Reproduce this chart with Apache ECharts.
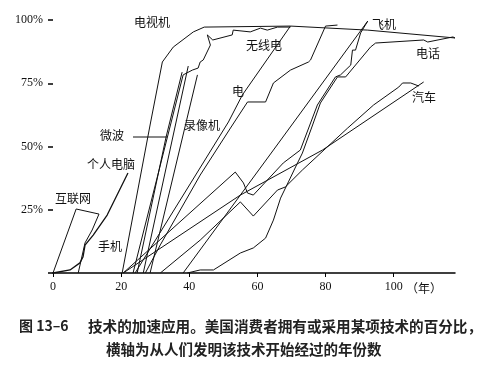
<!DOCTYPE html>
<html><head><meta charset="utf-8">
<script src="https://cdn.jsdelivr.net/npm/echarts@6/dist/echarts.min.js"></script>
<style>html,body{margin:0;padding:0;background:#fff}#c{width:478px;height:369px}</style>
</head><body><div id="c"></div>
<script>
// x = years since invention, y = % of US consumers
const internet = [[0,0],[6.8,25.3],[13.5,23.3]];
const cellphone = [[7.4,0],[9.4,11.9],[11.5,17],[13.5,23.3]];
const pc = [[0,0],[5,1.2],[7.9,4],[8.8,6.3],[9.4,11],[11.8,15],[15.9,22.9],[22,39.5]];
const tv = [[20.3,0],[28.5,58.5],[32.1,83.4],[35.3,89.3],[41.2,95.3],[44.4,97.2],[69.7,97.6],[92.4,96],[118,92.9]];
const radio = [[23.5,0],[38.2,78.3],[40.9,80.2],[42.6,81],[43.2,83.4],[44.1,84.2],[46.2,90.1],[45.3,94.1],[46.9,92.1],[52.6,94.1],[52.9,96],[57.9,95.3],[60.9,96.8],[62.9,96],[65.9,97.2],[69.7,97.2]];
const microwave = [[24.7,0],[33.2,53.8],[37.9,79.4]];
const dryer = [[26.5,0],[39.7,81.8]];
const vcr = [[28.5,0],[42.4,78.3]];
const electricity = [[24.1,0],[51.5,59.7],[55.6,70.4],[69.7,97.6]];
const refrigerator = [[27.1,0],[31.5,11.1],[43.2,38.7],[52.1,57.3],[57.1,67.6],[62.4,67.6],[64.7,75.1],[69.7,80.2],[75,83.4],[75.6,84.2],[80,97.6],[83.5,98]];
const airplane = [[20.6,0],[53.5,39.9],[55.9,35.6],[57.1,31.6],[58.8,30.8],[67.6,43.5],[72.6,48.6],[77.6,66.4],[82.9,77.5],[84.4,78.3],[87.4,82.2],[87.9,88.1],[88.8,88.1],[90.3,94.9],[92.4,99.6]];
const airplane2 = [[38.2,0],[64.7,48.6],[92.4,99.6]];
const telephone = [[39.4,0],[43.2,1.2],[47.1,1.2],[55,7.9],[58.8,9.9],[62.4,13.8],[64.7,20.9],[66.8,29.6],[69.1,36],[71.2,41.9],[73.2,47.4],[76.2,58.5],[78.5,67.2],[83.5,77.5],[85.9,77.5],[93.2,89.3],[94.7,90.9],[108.8,92.1],[110,91.3],[117.4,93.3],[118,92.9]];
const autoA = [[20.6,0],[55,30.8],[79.1,48.6],[108.8,75.5]];
const autoB = [[31.5,0],[43.2,13],[55,28.1],[58.8,22.5],[65.9,32.8],[68.2,34],[73.2,40.7],[86.5,57.3],[94.1,66.4],[101.5,73.5],[102.6,75.1],[105,75.1],[107.4,73.9]];
const xTicks = [0,20,40,60,80,100];
const yTicks = [0,25,50,75,100];
const allSeries = [internet,cellphone,pc,tv,radio,microwave,dryer,vcr,electricity,refrigerator,airplane,airplane2,telephone,autoA,autoB];

const chart = echarts.init(document.getElementById('c'), null, {renderer:'canvas'});
const CJK = '"Noto Sans CJK SC", sans-serif';
function lbl(text, x, y){ return {type:'text', left:x, top:y, style:{text:text, font:'12px '+CJK, fill:'#111'}}; }
chart.setOption({
  animation:false,
  backgroundColor:'#fff',
  grid:{left:53, right:23, top:20, bottom:96},
  xAxis:{type:'value', min:0, max:118,
    axisLine:{lineStyle:{color:'#000', width:1.5}},
    axisTick:{length:4, lineStyle:{color:'#000'}, customValues:xTicks},
    axisLabel:{customValues:xTicks, margin:8, color:'#111', fontFamily:'"Liberation Serif", serif', fontSize:12},
    splitLine:{show:false}},
  yAxis:{type:'value', min:0, max:100, interval:25,
    axisLine:{show:false},
    axisTick:{show:true, length:5, lineStyle:{color:'#000', width:1.5}, customValues:yTicks},
    axisLabel:{customValues:yTicks, margin:10, color:'#111', fontFamily:'"Liberation Serif", serif', fontSize:12,
      formatter:v=> v===0?'':v+'%'},
    splitLine:{show:false}},
  series: allSeries.map(d=>({type:'line', data:d, symbol:'none', lineStyle:{color:'#111', width: d===pc?1.3:1}, silent:true})),
  graphic:[
    lbl('电视机',134,16), lbl('无线电',246,39), lbl('飞机',372,18), lbl('电话',416,47),
    lbl('汽车',412,91), lbl('电',232,85), lbl('录像机',184,119), lbl('微波',100,129),
    lbl('个人电脑',87,158), lbl('互联网',55,192), lbl('手机',98,240),
    {type:'line', shape:{x1:133,y1:137,x2:167,y2:137}, style:{stroke:'#111', lineWidth:1}},
    {type:'text', left:406, top:282, style:{text:'（年）', font:'12px '+CJK, fill:'#111'}},
    {type:'text', left:19, top:319, style:{text:'图 13–6', font:'bold 14px '+CJK, fill:'#222'}},
    {type:'text', left:88, top:319, style:{text:'技术的加速应用。美国消费者拥有或采用某项技术的百分比，', font:'bold 14.6px '+CJK, fill:'#222'}},
    {type:'text', left:106, top:342, style:{text:'横轴为从人们发明该技术开始经过的年份数', font:'bold 14.5px '+CJK, fill:'#222'}}
  ]
});
</script></body></html>
